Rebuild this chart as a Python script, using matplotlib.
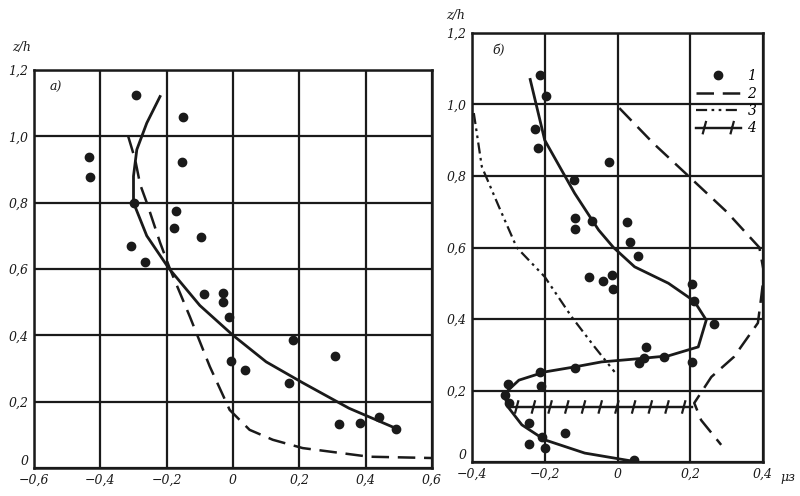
import matplotlib
matplotlib.use("Agg")
import matplotlib.pyplot as plt
import matplotlib.patheffects as pe
from matplotlib.lines import Line2D

# ---- panel a) data ----
a_pts_x = [-0.292, -0.150, -0.433, -0.430, -0.153, -0.300, -0.171, -0.177, -0.096, -0.307,
           -0.265, -0.087, -0.030, -0.030, -0.012, -0.006, 0.036, 0.180, 0.168, 0.307,
           0.320, 0.382, 0.439, 0.490]
a_pts_y = [1.124, 1.057, 0.937, 0.876, 0.924, 0.800, 0.774, 0.725, 0.695, 0.668,
           0.622, 0.526, 0.528, 0.500, 0.456, 0.323, 0.296, 0.387, 0.257, 0.338,
           0.133, 0.136, 0.154, 0.118]
a_solid_x = [-0.22, -0.26, -0.29, -0.30, -0.30, -0.26, -0.195, -0.10, 0.0, 0.10, 0.21, 0.35, 0.49]
a_solid_y = [1.12, 1.04, 0.96, 0.88, 0.80, 0.70, 0.604, 0.49, 0.40, 0.32, 0.257, 0.18, 0.12]
a_dash_x = [-0.316, -0.295, -0.28, -0.26, -0.22, -0.19, -0.13, -0.07, -0.01, 0.05, 0.12, 0.21, 0.41, 0.60]
a_dash_y = [1.0, 0.93, 0.855, 0.80, 0.68, 0.60, 0.456, 0.306, 0.175, 0.115, 0.085, 0.06, 0.034, 0.03]

# ---- panel b) data ----
b_pts_x = [-0.214, -0.197, -0.227, -0.219, -0.022, -0.120, -0.118, -0.118, -0.069, 0.027,
           0.033, 0.057, -0.077, -0.041, -0.016, -0.011, 0.205, 0.211, 0.266, 0.079,
           0.074, 0.058, 0.129, 0.205, -0.118, -0.214, -0.301, -0.211, -0.310, -0.299,
           -0.244, -0.244, -0.208, -0.200, -0.145, 0.044]
b_pts_y = [1.083, 1.024, 0.931, 0.879, 0.840, 0.789, 0.682, 0.651, 0.675, 0.672,
           0.616, 0.577, 0.518, 0.506, 0.523, 0.484, 0.497, 0.450, 0.386, 0.322,
           0.291, 0.277, 0.294, 0.280, 0.263, 0.252, 0.218, 0.213, 0.187, 0.165,
           0.109, 0.050, 0.070, 0.039, 0.081, 0.006]
b_solid_x = [-0.24, -0.20, -0.118, -0.052, -0.011, 0.047, 0.14, 0.211, 0.244, 0.222, 0.14,
             0.047, -0.044, -0.118, -0.20, -0.271, -0.312, -0.301, -0.263, -0.20, -0.09, 0.038]
b_solid_y = [1.07, 0.90, 0.752, 0.649, 0.60, 0.546, 0.50, 0.45, 0.397, 0.322, 0.297,
             0.288, 0.28, 0.266, 0.252, 0.229, 0.19, 0.154, 0.104, 0.062, 0.025, 0.003]
b_c2_x = [0.005, 0.10, 0.195, 0.30, 0.39, 0.403, 0.395, 0.386, 0.32, 0.258, 0.211, 0.23, 0.285]
b_c2_y = [0.99, 0.89, 0.80, 0.70, 0.60, 0.528, 0.46, 0.389, 0.294, 0.238, 0.165, 0.117, 0.048]
b_c3_x = [-0.395, -0.373, -0.326, -0.277, -0.20, -0.126, -0.063, -0.008]
b_c3_y = [0.976, 0.826, 0.714, 0.60, 0.518, 0.406, 0.322, 0.252]
b_c4_x = [-0.30, 0.205]
b_c4_y = [0.154, 0.154]

a_xticks = [-0.6, -0.4, -0.2, 0, 0.2, 0.4, 0.6]
a_xlabels = ["\u22120,6", "\u22120,4", "\u22120,2", "0", "0,2", "0,4", "0,6"]
b_xticks = [-0.4, -0.2, 0, 0.2, 0.4]
b_xlabels = ["\u22120,4", "\u22120,2", "0", "0,2", "0,4"]
yticks = [0, 0.2, 0.4, 0.6, 0.8, 1.0, 1.2]
ylabels = ["0", "0,2", "0,4", "0,6", "0,8", "1,0", "1,2"]
legend_labels = ["1", "2", "3", "4"]

INK = "#1a1a1a"
FONT = dict(family="DejaVu Serif", style="italic", fontsize=9, color=INK)
DASH2 = (0, (7, 3.5))
DASH3 = (0, (5, 2, 1.2, 2, 1.2, 2))
tick_fx = [pe.withTickedStroke(angle=75, spacing=12, length=0.35),
           pe.withTickedStroke(angle=-105, spacing=12, length=0.35)]

fig = plt.figure(figsize=(8, 4.96), dpi=100)
ax1 = fig.add_axes([0.0425, 0.0565, 0.4975, 0.8024])
ax2 = fig.add_axes([0.59, 0.0685, 0.36375, 0.865])


def style_axes(ax, xticks, xlabels):
    ax.set_xticks(xticks)
    ax.set_xticklabels(xlabels, **FONT)
    ax.set_yticks(yticks)
    ax.set_yticklabels(ylabels, **FONT)
    ax.set_ylim(0, 1.2)
    ax.set_xlim(xticks[0], xticks[-1])
    ax.grid(True, color=INK, lw=1.6)
    ax.tick_params(length=0, pad=4)
    for s in ax.spines.values():
        s.set_linewidth(1.8)
        s.set_color(INK)
    ax.set_axisbelow(True)
    # the "0" on the y axis sits just above the bottom line
    ax.get_yticklabels()[0].set_va("bottom")


# panel a)
style_axes(ax1, a_xticks, a_xlabels)
ax1.plot(a_solid_x, a_solid_y, color=INK, lw=2)
ax1.plot(a_dash_x, a_dash_y, color=INK, lw=1.8, linestyle=DASH2)
ax1.plot(a_pts_x, a_pts_y, "o", color=INK, ms=6)
ax1.text(-0.552, 1.148, "а)", ha="left", va="center", **FONT)

# panel b)
style_axes(ax2, b_xticks, b_xlabels)
ax2.plot(b_solid_x, b_solid_y, color=INK, lw=2)
ax2.plot(b_c2_x, b_c2_y, color=INK, lw=1.8, linestyle=DASH2)
ax2.plot(b_c3_x, b_c3_y, color=INK, lw=1.6, linestyle=DASH3)
ax2.plot(b_c4_x, b_c4_y, color=INK, lw=1.6, path_effects=tick_fx)
ax2.plot(b_pts_x, b_pts_y, "o", color=INK, ms=6)
ax2.text(-0.345, 1.152, "б)", ha="left", va="center", **FONT)

handles = [
    Line2D([], [], marker="o", ls="none", color=INK, ms=6),
    Line2D([], [], color=INK, lw=1.8, linestyle=DASH2),
    Line2D([], [], color=INK, lw=1.6, linestyle=DASH3),
    Line2D([], [], color=INK, lw=1.6, path_effects=tick_fx),
]
leg = ax2.legend(handles, legend_labels, loc="upper right", bbox_to_anchor=(1.02, 0.945),
                 frameon=False, handlelength=3.2, handletextpad=0.5, labelspacing=0.25,
                 prop=dict(family="DejaVu Serif", style="italic", size=10))

fig.text(22 / 800, 1 - 48 / 496, "z/h", ha="center", va="center", **FONT)
fig.text(456 / 800, 1 - 15 / 496, "z/h", ha="center", va="center", **FONT)
fig.text(788 / 800, 1 - 478 / 496, "μз", ha="center", va="center", **FONT)

fig.savefig("out.png", dpi=100)
